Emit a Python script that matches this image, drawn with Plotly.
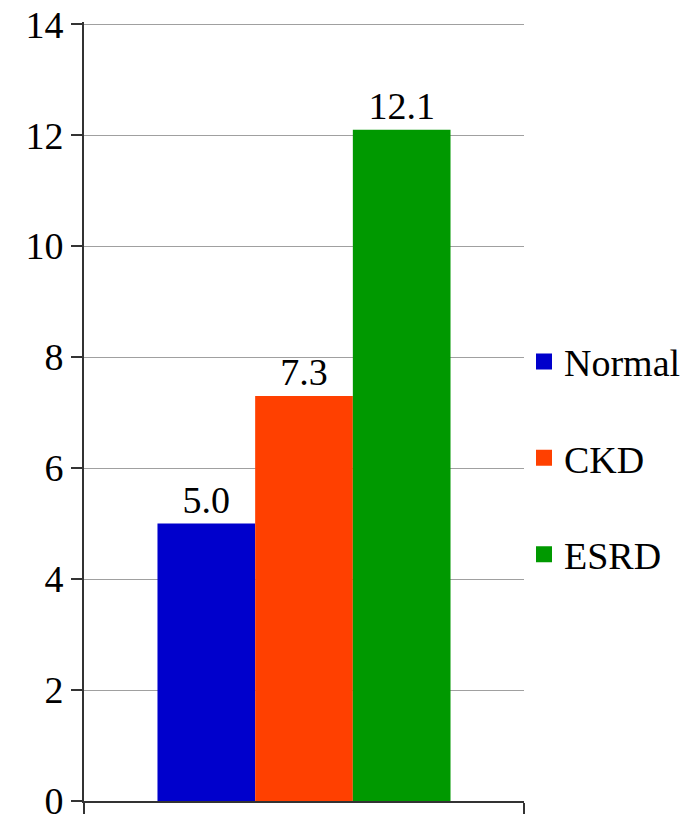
import plotly.graph_objects as go

categories = ["Normal", "CKD", "ESRD"]
values = [5.0, 7.3, 12.1]
colors = ["#0000CC", "#FF4000", "#009900"]
labels = ["5.0", "7.3", "12.1"]
y_ticks = [0, 2, 4, 6, 8, 10, 12, 14]

font = "Liberation Serif, Times New Roman, serif"
fig = go.Figure()
for name, v, c, t in zip(categories, values, colors, labels):
    fig.add_trace(go.Bar(
        x=[""], y=[v], name=name, marker=dict(color=c, line=dict(width=0)),
        text=[t], textposition="outside", textfont=dict(size=38, color="black", family=font),
        cliponaxis=False, showlegend=False,
    ))
for name, c in zip(categories, colors):
    fig.add_trace(go.Scatter(
        x=[None], y=[None], mode="markers", name=name, legendgroup=name,
        marker=dict(symbol="square", size=16, color=c),
    ))

fig.update_layout(
    width=697, height=815,
    margin=dict(l=76, r=181, t=14, b=22),
    paper_bgcolor="white", plot_bgcolor="white",
    barmode="group", bargap=0.334, bargroupgap=0,
    font=dict(family=font, size=38, color="black"),
    legend=dict(x=1.0, xanchor="left", y=0.44, yanchor="middle",
                tracegroupgap=44, font=dict(size=38), itemwidth=30),
    xaxis=dict(range=[-0.5, 0.5], showticklabels=False, showline=True, linecolor="#333",
               linewidth=2, ticks="outside", tickson="boundaries", ticklen=11,
               tickwidth=2, tickcolor="#333", showgrid=False, zeroline=False,
               automargin=False),
    yaxis=dict(range=[0, 14.04], tickvals=y_ticks, showline=True, linecolor="#333", linewidth=2,
               ticks="outside", ticklen=11, tickwidth=2, tickcolor="#333",
               gridcolor="#A0A0A0", gridwidth=1, zeroline=False,
               tickfont=dict(size=38), automargin=False, ticklabeloverflow="allow"),
)
fig.write_html("out.html")
